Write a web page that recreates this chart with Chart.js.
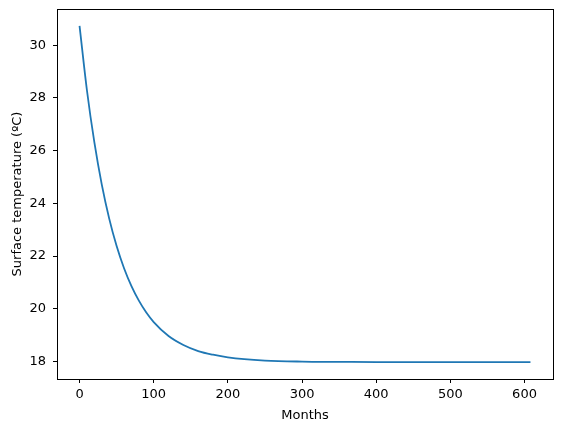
<!DOCTYPE html>
<html>
<head>
<meta charset="utf-8">
<script src="https://cdn.jsdelivr.net/npm/chart.js@4/dist/chart.umd.min.js"></script>
<style>
  html, body { margin: 0; padding: 0; background: #fff; }
  canvas { display: block; }
</style>
</head>
<body>
<canvas id="myChart" width="563" height="432"></canvas>
<script>
'use strict';

// values
var months = [0, 10, 20, 30, 40, 50, 60, 70, 80, 90, 100, 120, 140, 160, 180, 200, 250, 300, 350, 400, 500, 608];
var temps = [30.73, 28.28, 26.31, 24.71, 23.42, 22.38, 21.54, 20.86, 20.31, 19.86, 19.50, 18.97, 18.63, 18.40, 18.26, 18.16, 18.04, 18.00, 17.99, 17.98, 17.98, 17.98];
var xTicks = [0, 100, 200, 300, 400, 500, 600];
var yTicks = [18, 20, 22, 24, 26, 28, 30];

var points = [];
for (var i = 0; i < months.length; i++) {
    points.push({ x: months[i], y: temps[i] });
}

var tickFont = { family: 'DejaVu Sans', size: 13 };

// black box round the plot, like matplotlib spines
var frame = {
    id: 'frame',
    afterDraw: function (chart) {
        var a = chart.chartArea;
        var ctx = chart.ctx;
        ctx.save();
        ctx.strokeStyle = '#000';
        ctx.lineWidth = 1;
        ctx.strokeRect(Math.round(a.left) + 0.5, Math.round(a.top) + 0.5,
            Math.round(a.right - a.left), Math.round(a.bottom - a.top));
        ctx.restore();
    }
};

function noPad(scale) {
    scale.paddingTop = 0;
    scale.paddingBottom = 0;
    scale.paddingLeft = 0;
    scale.paddingRight = 0;
}

var ctx = document.getElementById('myChart').getContext('2d');
var chart = new Chart(ctx, {
    type: 'line',
    data: {
        datasets: [{
            data: points,
            borderColor: '#1f77b4',
            borderWidth: 1.8,
            pointRadius: 0,
            fill: false,
            cubicInterpolationMode: 'monotone'
        }]
    },
    options: {
        responsive: false,
        animation: false,
        devicePixelRatio: 1,
        layout: { padding: { top: 9, right: 10, left: 0, bottom: 0 } },
        plugins: {
            legend: { display: false },
            tooltip: { enabled: false }
        },
        scales: {
            x: {
                type: 'linear',
                min: -30.4,
                max: 638.4,
                afterBuildTicks: function (scale) {
                    scale.ticks = xTicks.map(function (v) { return { value: v }; });
                },
                afterFit: function (scale) { scale.height = 53; noPad(scale); },
                grid: { display: true, drawOnChartArea: false, drawTicks: true, tickLength: 4, color: '#000' },
                border: { display: false },
                ticks: { color: '#000', font: tickFont, padding: 4, maxRotation: 0 },
                title: { display: true, text: 'Months', color: '#000', font: tickFont, padding: { top: 2, bottom: 9 } }
            },
            y: {
                type: 'linear',
                min: 17.34,
                max: 31.37,
                afterBuildTicks: function (scale) {
                    scale.ticks = yTicks.map(function (v) { return { value: v }; });
                },
                afterFit: function (scale) { scale.width = 57; noPad(scale); },
                grid: { display: true, drawOnChartArea: false, drawTicks: true, tickLength: 4, color: '#000' },
                border: { display: false },
                ticks: { color: '#000', font: tickFont, padding: 7 },
                title: { display: true, text: 'Surface temperature (ºC)', color: '#000', font: tickFont, padding: { top: 10, bottom: 2 } }
            }
        }
    },
    plugins: [frame]
});
</script>
</body>
</html>
